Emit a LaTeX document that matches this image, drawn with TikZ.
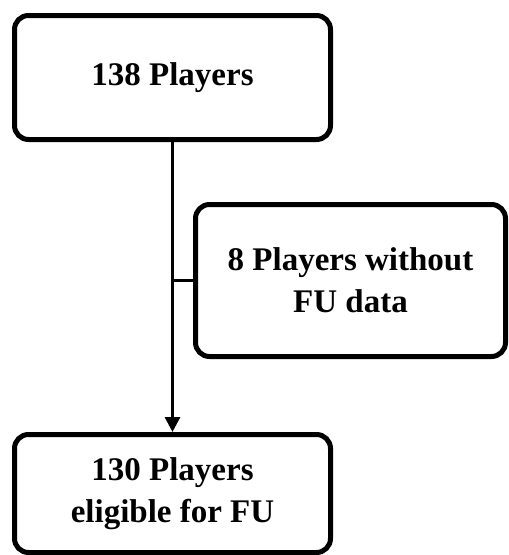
\documentclass[tikz,border=0pt]{standalone}
\usepackage{fontspec}
\setmainfont{Liberation Serif}
\usetikzlibrary{arrows.meta}
\tikzset{
  flowbox/.style={draw=black, line width=5pt, rounded corners=14pt, fill=white,
    align=center, inner sep=0pt,
    font=\fontsize{33}{42}\selectfont\bfseries},
  connector/.style={draw=black, line width=3pt},
}
\begin{document}
\begin{tikzpicture}[x=1pt,y=-1pt]
\useasboundingbox (0,0) rectangle (509,555);
\node[flowbox, minimum width=316pt, minimum height=124pt] (top) at (172.5,77.5) {138 Players};
\node[flowbox, minimum width=310pt, minimum height=152pt] (mid) at (350.5,280.5) {8 Players without\\FU data};
\node[flowbox, minimum width=316pt, minimum height=118pt] (bot) at (172.5,493.5) {130 Players\\eligible for FU};
\coordinate (branch) at (172.5,280.5);
\draw[connector, -{Triangle[length=15pt,width=15pt]}] (top.south) -- (bot.north);
\draw[connector] (branch) -- (mid.west);
\end{tikzpicture}
\end{document}
